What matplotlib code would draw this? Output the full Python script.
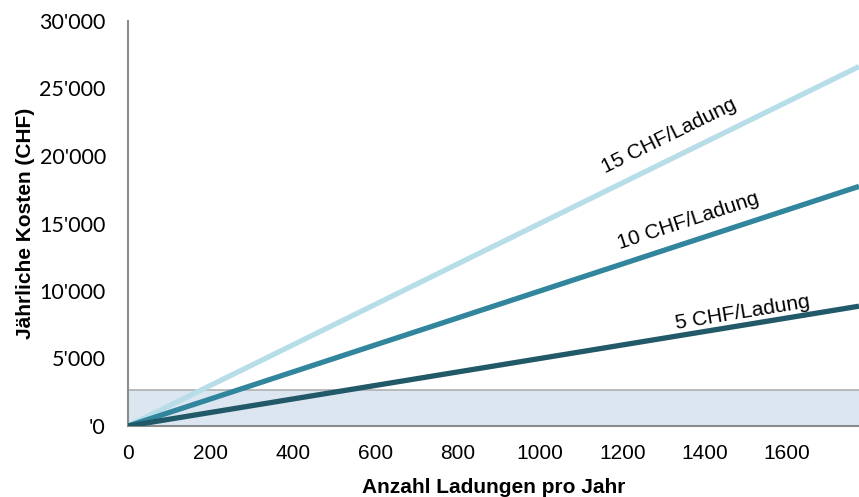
import matplotlib
matplotlib.use("Agg")
import matplotlib.pyplot as plt
from matplotlib.ticker import FuncFormatter
import numpy as np

# charges per year and price per charge
x_max = 1775
prices = [15, 10, 5]
colors = ["#B7DEE8", "#31859C", "#215968"]
labels = ["15 CHF/Ladung", "10 CHF/Ladung", "5 CHF/Ladung"]
label_x = [1337, 1376, 1498]       # where each label sits along its line
label_gap = [22, 20, 12]           # distance of label centre from the line, px
band_top = 2700                    # shaded reference band
x_ticks = [0, 200, 400, 600, 800, 1000, 1200, 1400, 1600]
y_ticks = [0, 5000, 10000, 15000, 20000, 25000, 30000]

fig = plt.figure(figsize=(8.59, 4.97), dpi=100)
ax = fig.add_axes([128 / 859, 71 / 497, 1 - 128 / 859, 405 / 497])

ax.axhspan(0, band_top, facecolor="#DCE6F1", edgecolor="none", zorder=1)
ax.axhline(band_top, color="#B0B0B0", lw=1.2, zorder=1)

x = np.array([0, x_max])
for p, c in zip(prices, colors):
    ax.plot(x, p * x, color=c, lw=3.8, solid_capstyle="butt", zorder=3)

ax.set_xlim(0, x_max)
ax.set_ylim(0, 30000)

# rotate labels to follow the lines in screen space
for p, lbl, lx, gap in zip(prices, labels, label_x, label_gap):
    p0 = ax.transData.transform((0, 0))
    p1 = ax.transData.transform((x_max, p * x_max))
    ang = np.arctan2(p1[1] - p0[1], p1[0] - p0[0])
    off = (-np.sin(ang) * gap * 0.72, np.cos(ang) * gap * 0.72)
    ax.annotate(lbl, (lx, p * lx), xytext=off, textcoords="offset points",
                rotation=np.degrees(ang), rotation_mode="anchor",
                ha="center", va="center", fontsize=15,
                family="Liberation Sans", zorder=4)

ax.set_xticks(x_ticks)
ax.set_yticks(y_ticks)
ax.yaxis.set_major_formatter(FuncFormatter(
    lambda v, _: "'0" if v == 0 else f"{int(v) // 1000}'000"))
ax.tick_params(axis="x", length=0, pad=13)
ax.tick_params(axis="y", length=0, pad=16)
for t in ax.get_xticklabels():
    t.set_family("Liberation Sans")
    t.set_fontsize(15)
for t in ax.get_yticklabels():
    t.set_family("Lato")
    t.set_fontsize(15.5)

for s in ("top", "right"):
    ax.spines[s].set_visible(False)
for s in ("left", "bottom"):
    ax.spines[s].set_color("#8C8C8C")
    ax.spines[s].set_linewidth(1.5)

ax.set_xlabel("Anzahl Ladungen pro Jahr", fontsize=15, fontweight="bold",
              family="Liberation Sans", labelpad=11)
ax.set_ylabel("Jährliche Kosten (CHF)", fontsize=15, fontweight="bold",
              family="Liberation Sans", labelpad=3)

fig.savefig("out.png", dpi=100)
